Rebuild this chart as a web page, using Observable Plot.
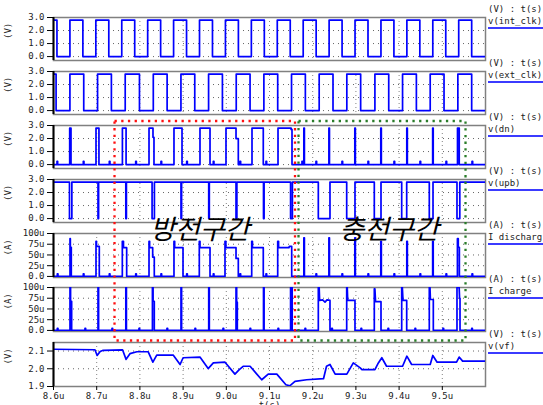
<!DOCTYPE html>
<html><head><meta charset="utf-8">
<script src="https://cdn.jsdelivr.net/npm/d3@7"></script>
<script src="https://cdn.jsdelivr.net/npm/@observablehq/plot@0.6"></script>
<style>
html,body{margin:0;padding:0;background:#fff;overflow:hidden}
#chart{position:relative;width:543px;height:405px;overflow:hidden;background:#fff}
.lab{position:absolute;left:488px;font:9px "DejaVu Sans Mono",monospace;color:#222;white-space:pre;line-height:10px}
.uline{position:absolute;left:488px;width:55px;height:2px;background:#3b3bff}
</style></head>
<body><div id="chart"></div>
<script>
// ---- data (times in microseconds) ----
const xTicks = [8.6, 8.7, 8.8, 8.9, 9.0, 9.1, 9.2, 9.3, 9.4, 9.5];
const xGrid = [8.7, 8.8, 8.9, 9.0, 9.1, 9.2, 9.3, 9.4, 9.5];
const clockHigh = 2.8;
const intClkFall = [8.608, 8.668, 8.728, 8.788, 8.848, 8.908, 8.968, 9.028, 9.088, 9.148, 9.208, 9.268, 9.328, 9.388, 9.448, 9.508, 9.568];
const intClkRise = [8.638, 8.698, 8.758, 8.818, 8.878, 8.938, 8.998, 9.058, 9.118, 9.178, 9.238, 9.298, 9.358, 9.418, 9.478, 9.538];
const extClkFall = [8.606, 8.670, 8.734, 8.799, 8.863, 8.927, 8.991, 9.055, 9.119, 9.183, 9.247, 9.311, 9.376, 9.440, 9.504, 9.568];
const extClkRise = [8.638, 8.702, 8.766, 8.831, 8.895, 8.959, 9.023, 9.087, 9.151, 9.215, 9.279, 9.344, 9.408, 9.472, 9.536];

const dnPulses = [
 [[8.6375, 2.8], [8.6405, 2.8]],
 [[8.6984, 2.8], [8.7052, 2.8]],
 [[8.7595, 2.8], [8.7680, 2.8]],
 [[8.8211, 2.8], [8.8303, 2.8], [8.8303, 2.1], [8.8326, 2.1]],
 [[8.8789, 2.8], [8.8975, 2.8]],
 [[8.9391, 2.8], [8.9623, 2.8]],
 [[8.9993, 2.8], [9.0225, 2.8], [9.0225, 2.0], [9.0278, 2.0]],
 [[9.0595, 2.8], [9.0856, 2.8]],
 [[9.1197, 2.8], [9.1500, 2.8], [9.1500, 2.7], [9.1521, 2.7]],
 [[9.1795, 2.8], [9.1808, 2.8]],
 [[9.2375, 2.8], [9.2388, 2.8]],
 [[9.2975, 2.8], [9.2988, 2.8]],
 [[9.3576, 2.8], [9.3589, 2.8]],
 [[9.4178, 2.8], [9.4191, 2.8]],
 [[9.4777, 2.8], [9.4790, 2.8]],
 [[9.5352, 2.8], [9.5392, 2.8]]
];
const dnBumps = [8.6081, 8.6690, 8.7292, 8.7903, 8.8488, 8.9083, 8.9699, 9.0317, 9.0919, 9.1752, 9.2076, 9.2678, 9.3280, 9.3882, 9.4484, 9.5086, 9.5688];
const dnBumpHeight = 0.25;

const upbLows = [[8.6370, 8.6425], [8.7030, 8.7044], [8.7674, 8.7688], [8.8282, 8.8336], [8.8951, 8.8965], [8.9593, 8.9607], [9.0225, 9.0245], [9.0861, 9.0875], [9.1488, 9.1530], [9.2130, 9.2400], [9.2787, 9.2979], [9.3426, 9.3581], [9.4060, 9.4176], [9.4699, 9.4785], [9.5340, 9.5405]];

const dischargePulses = [
 [[8.6382, 88], [8.6390, 88], [8.6390, 68], [8.6412, 68]],
 [[8.6984, 82], [8.6995, 82], [8.6995, 70], [8.7060, 70]],
 [[8.7593, 82], [8.7620, 82], [8.7620, 67], [8.7694, 67]],
 [[8.8211, 82], [8.8225, 82], [8.8225, 67], [8.8296, 67], [8.8296, 45], [8.8333, 45]],
 [[8.8789, 82], [8.8805, 82], [8.8805, 67], [8.8998, 67]],
 [[8.9375, 82], [8.9391, 82], [8.9391, 67], [8.9623, 67]],
 [[8.9970, 82], [8.9990, 82], [8.9990, 67], [9.0225, 67], [9.0225, 42], [9.0278, 42]],
 [[9.0588, 82], [9.0605, 82], [9.0605, 67], [9.0856, 67]],
 [[9.1190, 82], [9.1210, 82], [9.1210, 67], [9.1450, 67], [9.1460, 70], [9.1514, 70]],
 [[9.1795, 90], [9.1808, 90]],
 [[9.2375, 90], [9.2388, 90]],
 [[9.2975, 90], [9.2988, 90]],
 [[9.3576, 82], [9.3589, 82]],
 [[9.4178, 82], [9.4191, 82]],
 [[9.4777, 82], [9.4790, 82]],
 [[9.5350, 88], [9.5370, 88], [9.5370, 68], [9.5395, 68]]
];
const dischargeBumps = [8.6088, 8.6690, 8.7292, 8.7903, 8.8488, 8.9083, 8.9699, 9.0317, 9.0919, 9.2076, 9.2678, 9.3280, 9.3882, 9.4484, 9.5086, 9.5688];
const dischargeBumpHeight = 6;

const chargePulses = [
 [[8.6382, 100], [8.6395, 100], [8.6395, 68], [8.6420, 68]],
 [[8.7030, 100], [8.7044, 100]],
 [[8.7674, 100], [8.7688, 100]],
 [[8.8290, 100], [8.8305, 100], [8.8305, 68], [8.8333, 68]],
 [[8.8951, 100], [8.8965, 100]],
 [[8.9593, 100], [8.9607, 100]],
 [[9.0225, 100], [9.0240, 100], [9.0240, 66], [9.0255, 66]],
 [[9.0861, 100], [9.0875, 100]],
 [[9.1488, 100], [9.1525, 100]],
 [[9.2130, 100], [9.2150, 100], [9.2160, 70], [9.2230, 71], [9.2285, 66], [9.2331, 71], [9.2400, 70]],
 [[9.2787, 100], [9.2800, 100], [9.2810, 70], [9.2979, 70]],
 [[9.3426, 97], [9.3440, 97], [9.3455, 67], [9.3581, 67]],
 [[9.4060, 100], [9.4075, 100], [9.4090, 70], [9.4176, 70]],
 [[9.4699, 100], [9.4715, 100], [9.4725, 72], [9.4792, 72]],
 [[9.5340, 100], [9.5390, 100], [9.5400, 75], [9.5410, 75]]
];
const chargeBumps = [8.6088, 8.6729, 8.7354, 8.7979, 8.8627, 8.9275, 8.9924, 9.0549, 9.1197, 9.1822, 9.2440, 9.3118, 9.3743, 9.4368, 9.5016, 9.5681];
const chargeBumpHeight = 5;

const vfT = [8.600, 8.696, 8.701, 8.708, 8.715, 8.760, 8.768, 8.777, 8.793, 8.819, 8.830, 8.839, 8.877, 8.893, 8.900, 8.939, 8.958, 8.970, 8.997, 9.020, 9.030, 9.039, 9.055, 9.082, 9.097, 9.117, 9.138, 9.147, 9.159, 9.186, 9.225, 9.232, 9.240, 9.252, 9.279, 9.294, 9.310, 9.314, 9.344, 9.352, 9.360, 9.371, 9.408, 9.418, 9.429, 9.472, 9.478, 9.488, 9.533, 9.539, 9.547, 9.600];
const vfV = [2.110, 2.107, 2.075, 2.097, 2.104, 2.106, 2.053, 2.085, 2.096, 2.096, 2.037, 2.077, 2.077, 2.024, 2.062, 2.066, 2.001, 2.033, 2.037, 1.970, 1.995, 2.014, 2.014, 1.938, 1.970, 1.970, 1.910, 1.904, 1.929, 1.938, 1.944, 2.014, 2.024, 1.970, 1.970, 2.033, 2.005, 1.995, 1.995, 2.033, 2.062, 2.014, 2.014, 2.071, 2.024, 2.024, 2.075, 2.037, 2.037, 2.066, 2.043, 2.043];

const voltTicks = [0, 1, 2, 3];
const ampTicks = [0, 25, 50, 75, 100];
const vfTicks = [1.9, 2.0, 2.1];

const regions = [
 {label: "방전구간", t0: 8.7424, t1: 9.1602, tc: 8.939, color: "#ff1010"},
 {label: "충전구간", t0: 9.1683, t1: 9.5549, tc: 9.377, color: "#2a7d2a"}
];

// ---- helpers building tables from the arrays ----
const T0 = 8.6, T1 = 9.6;
function clockSeries(falls, rises, hi) {
  const ev = falls.map(t => [t, 0]).concat(rises.map(t => [t, hi])).sort((a, b) => a[0] - b[0]);
  const pts = [[T0, hi]]; let lev = hi;
  for (const [t, v] of ev) { pts.push([t, lev], [t, v]); lev = v; }
  pts.push([T1, lev]);
  return pts;
}
function pulseSeries(shapes, base) {
  const s = shapes.slice().sort((a, b) => a[0][0] - b[0][0]);
  const pts = [[T0, base]];
  for (const sh of s) { pts.push([sh[0][0], base], ...sh, [sh[sh.length - 1][0], base]); }
  pts.push([T1, base]);
  return pts;
}
const bumpShapes = (ts, h) => ts.map(t => [[t, h], [t + 0.0015, h]]);

const fmt1 = d3.format(".1f");
const ampFmt = d => d === 0 ? "0.0" : d + "u";

const panels = [
 {top: 17, h: 43, dom: [-0.3, 3.0], ticks: voltTicks, grid: [0, 1, 2], fmt: fmt1, unit: "(V)", head: "(V) : t(s)", name: "v(int_clk)", pts: clockSeries(intClkFall, intClkRise, clockHigh)},
 {top: 71, h: 43, dom: [-0.3, 3.0], ticks: voltTicks, grid: [0, 1, 2], fmt: fmt1, unit: "(V)", head: "(V) : t(s)", name: "v(ext_clk)", pts: clockSeries(extClkFall, extClkRise, clockHigh)},
 {top: 125, h: 43, dom: [-0.3, 3.0], ticks: voltTicks, grid: [0, 1, 2], fmt: fmt1, unit: "(V)", head: "(V) : t(s)", name: "v(dn)", pts: pulseSeries(dnPulses.concat(bumpShapes(dnBumps, dnBumpHeight)), 0)},
 {top: 179, h: 43, dom: [-0.3, 3.0], ticks: voltTicks, grid: [0, 1, 2], fmt: fmt1, unit: "(V)", head: "(V) : t(s)", name: "v(upb)", pts: pulseSeries(upbLows.map(([a, b]) => [[a, 0], [b, 0]]), clockHigh)},
 {top: 233, h: 44, dom: [-2.5, 100], ticks: ampTicks, grid: [25, 50, 75], fmt: ampFmt, unit: "(A)", head: "(A) : t(s)", name: "I discharg", pts: pulseSeries(dischargePulses.concat(bumpShapes(dischargeBumps, dischargeBumpHeight)), 0)},
 {top: 287, h: 44, dom: [-2.5, 100], ticks: ampTicks, grid: [25, 50, 75], fmt: ampFmt, unit: "(A)", head: "(A) : t(s)", name: "I charge", pts: pulseSeries(chargePulses.concat(bumpShapes(chargeBumps, chargeBumpHeight)), 0)},
 {top: 342, h: 44, dom: [1.9, 2.148], ticks: vfTicks, grid: [2.0, 2.1], fmt: fmt1, unit: "(V)", head: "(V) : t(s)", name: "v(vf)", pts: vfT.map((t, i) => [t, vfV[i]])}
];

const chart = document.getElementById("chart");
const ML = 53, MR = 58, W = 543;
const font = '"DejaVu Sans Mono", monospace';

panels.forEach((p, i) => {
  const last = i === panels.length - 1;
  const mt = 3, mb = last ? 25 : 3;
  const marks = [
    Plot.gridY({ticks: p.grid, stroke: "#555", strokeOpacity: 0.9, strokeDasharray: "1,4"}),
    Plot.gridX({ticks: xGrid, stroke: "#777", strokeOpacity: 0.9, strokeDasharray: "1,3"}),
    Plot.frame({stroke: "#808080", strokeWidth: 1.5}),
    Plot.line(p.pts, {x: d => d[0], y: d => d[1], stroke: "#0000ff", strokeWidth: 1.7, clip: true}),
    Plot.ruleX([T0], {stroke: "#000", strokeWidth: 2}),
    Plot.axisY({ticks: p.ticks, tickFormat: p.fmt, tickSize: 6, tickPadding: 3, label: null, fill: "#222"}),
    Plot.text([p.unit], {frameAnchor: "left", dx: -45, rotate: -90, fontSize: 9, fill: "#222"})
  ];
  if (last) {
    marks.push(
      Plot.axisX({ticks: xTicks, tickFormat: d => d.toFixed(1) + "u", tickSize: 4, tickPadding: 2, label: null, fill: "#222"}),
      Plot.text(["t(s)"], {frameAnchor: "bottom", dy: 15, lineAnchor: "top", fontSize: 9, fill: "#222"})
    );
  }
  const svg = Plot.plot({
    width: W, height: p.h + mt + mb,
    marginLeft: ML, marginRight: MR, marginTop: mt, marginBottom: mb,
    x: {domain: [T0, T1], axis: null},
    y: {domain: p.dom, axis: null},
    style: {fontFamily: font, fontSize: "9px", background: "transparent", overflow: "visible"},
    marks
  });
  svg.style.position = "absolute";
  svg.style.left = "0px";
  svg.style.top = (p.top - mt) + "px";
  chart.appendChild(svg);

  const h = document.createElement("div");
  h.className = "lab"; h.textContent = p.head; h.style.top = (p.top - 13) + "px";
  chart.appendChild(h);
  const n = document.createElement("div");
  n.className = "lab"; n.textContent = p.name; n.style.top = (p.top - 1) + "px";
  chart.appendChild(n);
  const u = document.createElement("div");
  u.className = "uline"; u.style.top = (p.top + 10) + "px";
  chart.appendChild(u);
});

// overlay: region boxes and Korean labels
const boxTop = panels[2].top - 4;
const boxBottom = panels[6].top - 1.5;
const labelY = panels[4].top - 3;
const overlayMarks = [];
regions.forEach(r => {
  overlayMarks.push(Plot.rect([r], {x1: "t0", x2: "t1", y1: () => boxTop, y2: () => boxBottom, fill: "none", stroke: r.color, strokeWidth: 2.3, strokeDasharray: "2.3,4.4"}));
});
overlayMarks.push(Plot.text(regions, {x: "tc", y: () => labelY, text: "label", fontSize: 27, fontFamily: '"Noto Sans CJK KR", sans-serif', fontStyle: "italic", fill: "#000"}));
const overlay = Plot.plot({
  width: W, height: 405, marginLeft: ML, marginRight: MR, marginTop: 0, marginBottom: 0,
  x: {domain: [T0, T1], axis: null},
  y: {type: "identity", axis: null},
  style: {background: "transparent"},
  marks: overlayMarks
});
overlay.style.position = "absolute"; overlay.style.left = "0px"; overlay.style.top = "0px"; overlay.style.pointerEvents = "none";
chart.appendChild(overlay);
</script>
</body></html>
